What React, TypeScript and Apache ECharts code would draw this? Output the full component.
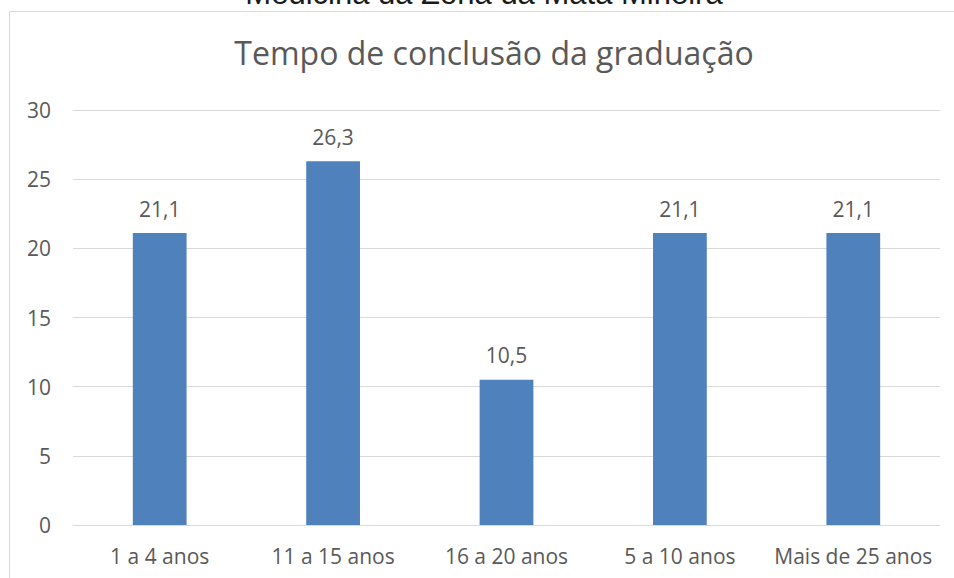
import React, { useEffect, useRef } from "react";
import * as echarts from "echarts";

const categories = ["1 a 4 anos", "11 a 15 anos", "16 a 20 anos", "5 a 10 anos", "Mais de 25 anos"];
const values = [21.1, 26.3, 10.5, 21.1, 21.1];
const yTicks = { min: 0, max: 30, interval: 5 };
const chartTitle = "Tempo de conclusão da graduação";
const topText = "Medicina da Zona da Mata Mineira";

export default function App() {
  const ref = useRef<HTMLDivElement>(null);
  useEffect(() => {
    if (!ref.current) return;
    const chart = echarts.init(ref.current, null, { renderer: "svg" });
    const textColor = "#595959";
    chart.setOption({
      animation: false,
      backgroundColor: "#ffffff",
      graphic: [
        {
          type: "rect",
          shape: { x: 9.5, y: 11.5, width: 960, height: 600 },
          style: { fill: "none", stroke: "#d9d9d9", lineWidth: 1 },
          z: 0,
        },
        {
          type: "text",
          x: 484,
          y: 9,
          style: {
            text: topText,
            fill: "#1a1a1a",
            font: '31px "Liberation Sans", Arial, sans-serif',
            textAlign: "center",
            textVerticalAlign: "bottom",
          } as any,
          z: 1,
        },
      ],
      title: {
        text: chartTitle,
        left: 489,
        top: 31,
        textAlign: "center",
        textStyle: {
          color: textColor,
          fontFamily: "Open Sans",
          fontWeight: "normal",
          fontSize: 32,
        },
      },
      grid: { left: 73, right: 14, top: 110, bottom: 53, containLabel: false },
      xAxis: {
        type: "category",
        data: categories,
        axisTick: { show: false },
        axisLine: { show: true, lineStyle: { color: "#d9d9d9", width: 1 } },
        axisLabel: { color: textColor, fontFamily: "Open Sans", fontSize: 21, margin: 20, interval: 0 },
      },
      yAxis: {
        type: "value",
        min: yTicks.min,
        max: yTicks.max,
        interval: yTicks.interval,
        axisLine: { show: false },
        axisTick: { show: false },
        splitLine: { lineStyle: { color: "#d9d9d9", width: 1 } },
        axisLabel: { color: textColor, fontFamily: "Open Sans", fontSize: 21, margin: 22 },
      },
      series: [
        {
          type: "bar",
          data: values,
          barWidth: "31%",
          itemStyle: { color: "#4f81bd" },
          label: {
            show: true,
            position: "top",
            distance: 14,
            color: textColor,
            fontFamily: "Open Sans",
            fontSize: 21,
            formatter: (p: any) => String(p.value).replace(".", ","),
          },
        },
      ],
    });
    return () => chart.dispose();
  }, []);
  return (
    <div
      ref={ref}
      style={{ position: "absolute", left: 0, top: 0, width: 954, height: 578 }}
    />
  );
}
